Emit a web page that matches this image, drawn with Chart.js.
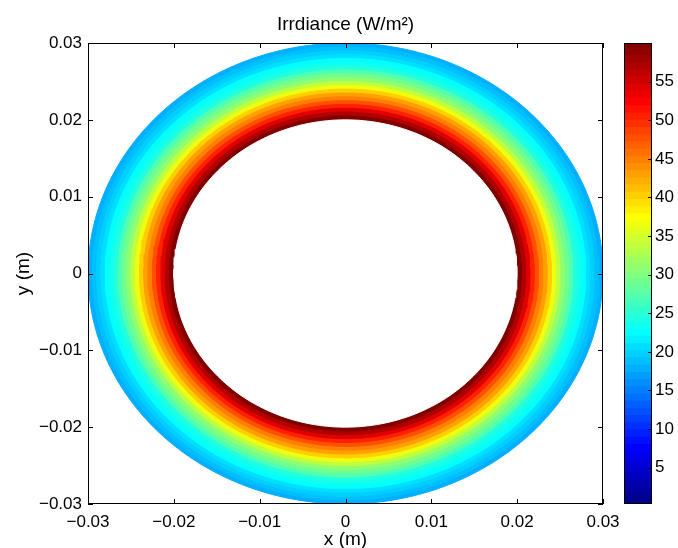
<!DOCTYPE html>
<html>
<head>
<meta charset="utf-8">
<script src="https://cdn.jsdelivr.net/npm/chart.js@4.4.1/dist/chart.umd.min.js"></script>
<style>
html, body { margin: 0; padding: 0; background: #fff; }
#wrap { position: relative; width: 678px; height: 548px; }
#main { position: absolute; left: 0; top: 0; }
#cbar { position: absolute; left: 600px; top: 0; }
</style>
</head>
<body>
<div id="wrap">
<canvas id="main" width="678" height="548"></canvas>
<canvas id="cbar" width="78" height="548"></canvas>
</div>
<script>
// radial profile: radius (m) and irradiance (W/m²)
const radii = [0.0200, 0.0205, 0.0210, 0.0215, 0.0220, 0.0225, 0.0230, 0.0235, 0.0240, 0.0245,
               0.0250, 0.0255, 0.0260, 0.0265, 0.0270, 0.0275, 0.0280, 0.0285, 0.0290, 0.0295, 0.0300];
const irradiance = [59.5, 56.5, 53.5, 50.5, 47.5, 45, 42.5, 39.5, 36.5, 33.5,
                    31, 28.5, 26.5, 24.5, 23, 21.8, 20.6, 19.6, 18.7, 17.9, 17.2];
const innerRadius = 0.02;

const xTicks = [-0.03, -0.02, -0.01, 0, 0.01, 0.02, 0.03];
const xTickLabels = ['\u22120.03', '\u22120.02', '\u22120.01', '0', '0.01', '0.02', '0.03'];
const yTicks = [-0.03, -0.02, -0.01, 0, 0.01, 0.02, 0.03];
const yTickLabels = ['\u22120.03', '\u22120.02', '\u22120.01', '0', '0.01', '0.02', '0.03'];
const cbarTicks = [5, 10, 15, 20, 25, 30, 35, 40, 45, 50, 55];
const cMin = 0.3, cMax = 60;
const nColors = 64;

Chart.defaults.font.family = '"Liberation Sans", Arial, Helvetica, sans-serif';
Chart.defaults.font.size = 17;
Chart.defaults.color = '#000';

function clamp(v) { return Math.max(0, Math.min(1, v)); }
// matlab jet(64)
function jetIndex(k) {
  const t = k / nColors;
  const r = clamp(1.5 - Math.abs(4 * t - 3));
  const g = clamp(1.5 - Math.abs(4 * t - 2));
  const b = clamp(1.5 - Math.abs(4 * t - 1));
  return 'rgb(' + Math.round(r * 255) + ',' + Math.round(g * 255) + ',' + Math.round(b * 255) + ')';
}
function jet(v) {
  let k = Math.floor((v - cMin) / (cMax - cMin) * nColors) + 1;
  k = Math.max(1, Math.min(nColors, k));
  return jetIndex(k);
}

function disk(r) {
  const pts = [];
  const n = 240;
  for (let i = 0; i <= n; i++) {
    const a = (i / n + 0.125) * 2 * Math.PI;
    pts.push({x: r * Math.cos(a), y: r * Math.sin(a)});
  }
  return pts;
}

// dataset 0 is drawn on top: white hole first, then bands inner -> outer
const datasets = [];
datasets.push({data: disk(innerRadius), backgroundColor: '#fff', borderColor: '#fff'});
for (let i = 0; i < radii.length - 1; i++) {
  const c = jet(irradiance[i]);
  datasets.push({data: disk(radii[i + 1]), backgroundColor: c, borderColor: c});
}
datasets.forEach(d => {
  d.showLine = true;
  d.fill = 'shape';
  d.borderWidth = 1;
  d.borderJoinStyle = 'round';
  d.borderCapStyle = 'round';
  d.pointRadius = 0;
  d.tension = 0;
});

const boxTicks = {
  id: 'boxTicks',
  afterDraw(chart) {
    const {ctx, chartArea: a, scales: {x, y}} = chart;
    ctx.save();
    ctx.strokeStyle = '#000';
    ctx.lineWidth = 1;
    ctx.beginPath();
    xTicks.forEach(v => {
      const px = Math.round(x.getPixelForValue(v)) + 0.5;
      ctx.moveTo(px, a.bottom); ctx.lineTo(px, a.bottom - 5);
      ctx.moveTo(px, a.top); ctx.lineTo(px, a.top + 5);
    });
    yTicks.forEach(v => {
      const py = Math.round(y.getPixelForValue(v)) + 0.5;
      ctx.moveTo(a.left, py); ctx.lineTo(a.left + 5, py);
      ctx.moveTo(a.right, py); ctx.lineTo(a.right - 5, py);
    });
    ctx.stroke();
    ctx.strokeRect(Math.round(a.left) + 0.5, Math.round(a.top) + 0.5,
                   Math.round(a.right - a.left) - 1, Math.round(a.bottom - a.top) - 1);
    ctx.restore();
  }
};

new Chart(document.getElementById('main'), {
  type: 'scatter',
  data: {datasets: datasets},
  plugins: [boxTicks],
  options: {
    responsive: false,
    animation: false,
    layout: {padding: {left: 0, right: 75, top: 0, bottom: 0}},
    plugins: {
      legend: {display: false},
      tooltip: {enabled: false}
    },
    scales: {
      x: {
        type: 'linear', min: -0.03, max: 0.03,
        grid: {display: false, drawTicks: false},
        border: {display: false},
        afterBuildTicks: s => { s.ticks = xTicks.map(v => ({value: v})); },
        afterFit: s => { s.height = 44; },
        ticks: {
          padding: 8, maxRotation: 0,
          callback: (v, i) => xTickLabels[i]
        },
        title: {display: true, text: 'x (m)', font: {size: 19, lineHeight: 1.2}, padding: {top: 0, bottom: -3}}
      },
      // top axis only carries the plot title, centred over the plot box
      xTop: {
        type: 'linear', position: 'top', min: -0.03, max: 0.03,
        grid: {display: false, drawTicks: false},
        border: {display: false},
        ticks: {display: false},
        afterFit: s => { s.height = 43; },
        title: {display: true, text: 'Irrdiance (W/m\u00b2)', font: {size: 19, lineHeight: 1.2}, padding: {top: 13, bottom: 0}}
      },
      y: {
        type: 'linear', min: -0.03, max: 0.03,
        grid: {display: false, drawTicks: false},
        border: {display: false},
        afterBuildTicks: s => { s.ticks = yTicks.map(v => ({value: v})); },
        afterFit: s => { s.width = 88; },
        ticks: {
          padding: 6,
          callback: (v, i) => yTickLabels[i]
        },
        title: {display: true, text: 'y (m)', font: {size: 19, lineHeight: 1.2}, padding: {top: 12, bottom: 12}}
      }
    }
  }
});

// colorbar
const cbarSets = [];
const step = (cMax - cMin) / nColors;
for (let k = 1; k <= nColors; k++) {
  cbarSets.push({
    data: [[cMin + (k - 1) * step, cMin + k * step + (k < nColors ? step * 0.3 : 0)]],
    backgroundColor: jetIndex(k),
    borderWidth: 0,
    grouped: false,
    barPercentage: 1,
    categoryPercentage: 1
  });
}

const cbarBox = {
  id: 'cbarBox',
  afterDraw(chart) {
    const {ctx, chartArea: a, scales: {y}} = chart;
    ctx.save();
    ctx.strokeStyle = '#000';
    ctx.lineWidth = 1;
    ctx.beginPath();
    cbarTicks.forEach(v => {
      const py = Math.round(y.getPixelForValue(v)) + 0.5;
      ctx.moveTo(a.right, py); ctx.lineTo(a.right - 4, py);
    });
    ctx.stroke();
    ctx.strokeRect(Math.round(a.left) + 0.5, Math.round(a.top) + 0.5,
                   Math.round(a.right - a.left) - 1, Math.round(a.bottom - a.top) - 1);
    ctx.restore();
  }
};

new Chart(document.getElementById('cbar'), {
  type: 'bar',
  data: {labels: [''], datasets: cbarSets},
  plugins: [cbarBox],
  options: {
    responsive: false,
    animation: false,
    layout: {padding: {left: 24, right: 0, top: 43, bottom: 44}},
    plugins: {legend: {display: false}, tooltip: {enabled: false}},
    scales: {
      x: {display: false},
      y: {
        position: 'right',
        min: cMin, max: cMax,
        grid: {display: false, drawTicks: false},
        border: {display: false},
        afterBuildTicks: s => { s.ticks = cbarTicks.map(v => ({value: v})); },
        afterFit: s => { s.width = 26; },
        ticks: {padding: 3, callback: v => String(v)}
      }
    }
  }
});
</script>
</body>
</html>
